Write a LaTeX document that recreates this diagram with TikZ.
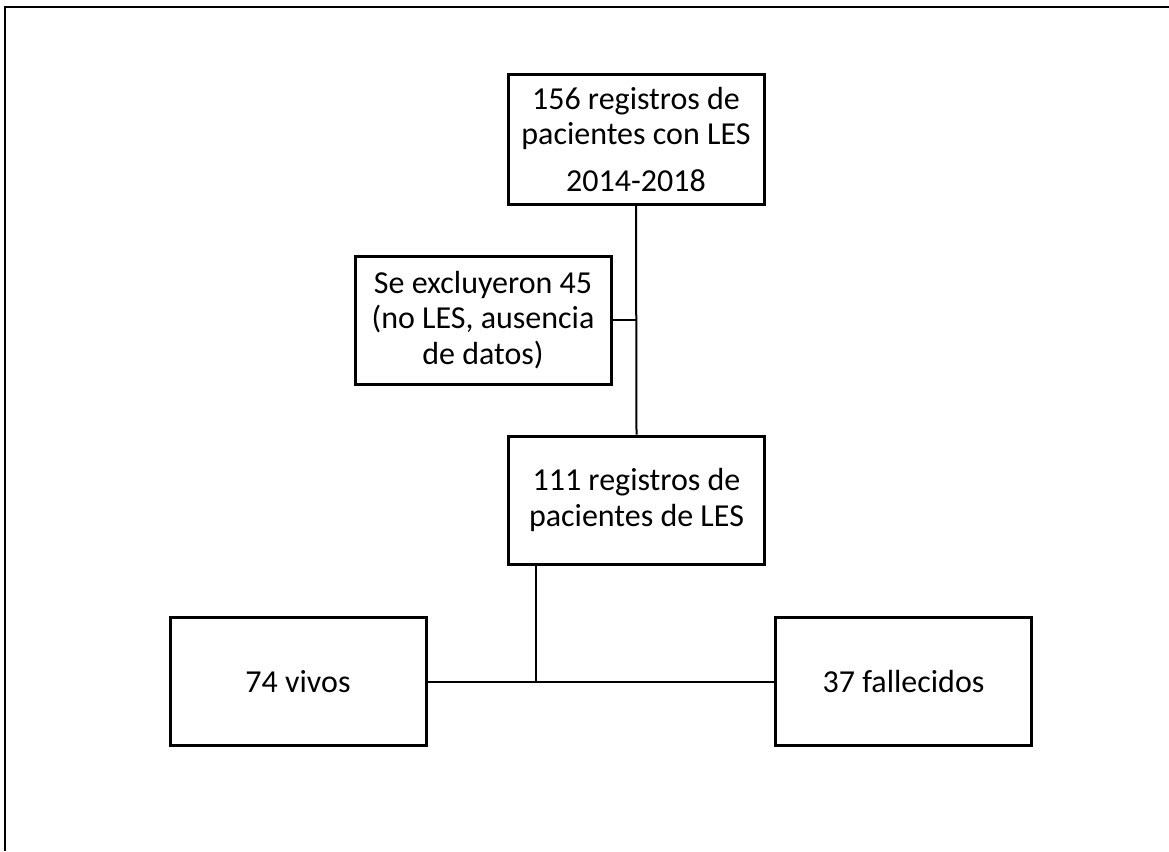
\documentclass[tikz,border=0pt]{standalone}
\usepackage{fontspec}
\setmainfont{Carlito}
\begin{document}
\begin{tikzpicture}[x=0.75pt,y=-0.75pt,
  box/.style={draw=black,line width=2.25pt,fill=white,rectangle,inner sep=0pt,
    minimum width=192pt,minimum height=96pt,align=center,
    font=\fontsize{24}{26.5}\selectfont},
  link/.style={draw=black,line width=1.5pt},
  frameline/.style={draw=black,line width=1.5pt}]
\useasboundingbox (0,0) rectangle (1169,851);
\draw[frameline] (5,851) -- (5,7) -- (1169,7);

\node[box,minimum height=97.5pt] (top) at (636,139.5) {156 registros de\\pacientes con LES\\[9pt]2014-2018};
\node[box] (excl) at (483,320) {Se excluyeron 45\\(no LES, ausencia\\de datos)};
\node[box] (mid) at (636.5,500) {111 registros de\\pacientes de LES};
\node[box] (vivos) at (298,681.5) {74 vivos};
\node[box] (fall) at (903.5,681.5) {37 fallecidos};
\coordinate (j) at (536,681.5);

\draw[link] (top.south) -- (mid.north);
\draw[link] (excl.east) -- (excl.east -| top.south);
\draw[link] (mid.south -| j) -- (j);
\draw[link] (vivos.east) -- (fall.west);
\end{tikzpicture}
\end{document}
